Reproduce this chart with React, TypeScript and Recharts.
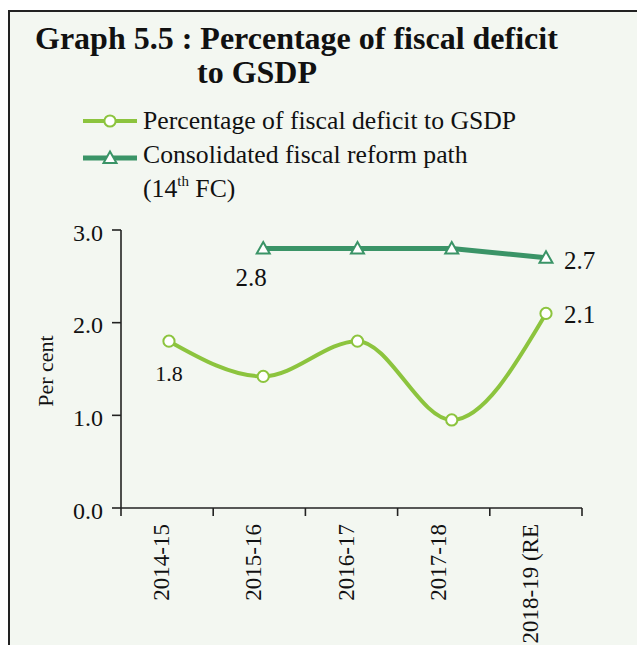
import React from 'react';
import { LineChart, Line, XAxis, YAxis, LabelList } from 'recharts';

// ---- data ----
const years = ['2014-15', '2015-16', '2016-17', '2017-18', '2018-19 (RE'];
const fiscalDeficitPct = [1.8, 1.42, 1.8, 0.95, 2.1];
const reformPath: (number | null)[] = [null, 2.8, 2.8, 2.8, 2.7];
const yTicks = [0, 1, 2, 3];
const seriesNames = ['Percentage of fiscal deficit to GSDP', 'Consolidated fiscal reform path'];
const titleLines = ['Graph 5.5 : Percentage of fiscal deficit', 'to GSDP'];
const yAxisTitle = 'Per cent';

const data = years.map((year, i) => ({
  year,
  idx: i,
  deficit: fiscalDeficitPct[i],
  path: reformPath[i],
}));
const edgeTicks = [...years.map((_, i) => i), years.length];

// ---- styles ----
const SERIF = "'Liberation Serif', 'Times New Roman', serif";
const LIGHT = '#8cc43e';
const DARK = '#3a9467';
const BG = '#f3f7f1';
const INK = '#111';
const AXIS = '#222';
const PT_D0 = -0.509;
const PT_D1 = 4.382;
const HALF_BAND = 46.1;

const circleDot = (p: any) =>
  p.cy == null || p.value == null ? (
    <g key={`c${p.index}`} />
  ) : (
    <circle key={`c${p.index}`} cx={p.cx} cy={p.cy} r={5.6} fill="#fff" stroke={LIGHT} strokeWidth={2} />
  );

const triDot = (p: any) =>
  p.cy == null || p.value == null ? (
    <g key={`t${p.index}`} />
  ) : (
    <path
      key={`t${p.index}`}
      d={`M${p.cx},${p.cy - 6.5} L${p.cx + 6.5},${p.cy + 5} L${p.cx - 6.5},${p.cy + 5} Z`}
      fill="#fff"
      stroke={DARK}
      strokeWidth={2}
    />
  );

type LabelCfg = { dx: number; dy: number; anchor: 'start' | 'middle' | 'end'; size: number };
const deficitLabels: Record<number, LabelCfg> = {
  0: { dx: 0, dy: 40, anchor: 'middle', size: 22 },
  4: { dx: 18, dy: 10, anchor: 'start', size: 25 },
};
const pathLabels: Record<number, LabelCfg> = {
  1: { dx: -12, dy: 37, anchor: 'middle', size: 25 },
  4: { dx: 18, dy: 11, anchor: 'start', size: 25 },
};

const makeLabel = (cfg: Record<number, LabelCfg>) => (props: any) => {
  const { index, value } = props;
  const c = cfg[index];
  if (!c || value == null) return <g />;
  const x = props.x ?? props.viewBox?.x;
  const y = props.y ?? props.viewBox?.y;
  return (
    <text x={x + c.dx} y={y + c.dy} textAnchor={c.anchor} fontSize={c.size} fontFamily={SERIF} fill={INK}>
      {Number(value).toFixed(1)}
    </text>
  );
};

const XTick = (p: any) => {
  const v = p.payload?.value;
  if (v == null || v >= years.length) return <g />;
  return (
    <g transform={`translate(${p.x + HALF_BAND - 6},${p.y + 8})`}>
      <text transform="rotate(-90)" textAnchor="end" dy="0.35em" fontSize={23} fontFamily={SERIF} fill={INK}>
        {years[v]}
      </text>
    </g>
  );
};

export default function App() {
  return (
    <div style={{ position: 'absolute', left: 0, top: 0, width: 637, height: 645, overflow: 'hidden', background: '#fff' }}>
      <div
        style={{
          position: 'absolute',
          left: 8,
          top: 10,
          width: 660,
          height: 660,
          background: BG,
          borderLeft: `2px solid ${AXIS}`,
          borderTop: `2px solid ${AXIS}`,
        }}
      />
      <svg width={637} height={645} style={{ position: 'absolute', left: 0, top: 0 }}>
        <text x={35} y={49} fontSize={32} fontWeight="bold" fontFamily={SERIF} fill={INK}>
          {titleLines[0]}
        </text>
        <text x={197} y={83} fontSize={32} fontWeight="bold" fontFamily={SERIF} fill={INK}>
          {titleLines[1]}
        </text>
        {/* legend */}
        <line x1={83} x2={137} y1={121} y2={121} stroke={LIGHT} strokeWidth={4} />
        <circle cx={110} cy={121} r={5.6} fill="#fff" stroke={LIGHT} strokeWidth={2} />
        <text x={143} y={129} fontSize={25.7} fontFamily={SERIF} fill={INK}>
          {seriesNames[0]}
        </text>
        <line x1={83} x2={137} y1={158} y2={158} stroke={DARK} strokeWidth={5} />
        <path d="M110,151.5 L116.5,163 L103.5,163 Z" fill="#fff" stroke={DARK} strokeWidth={2} />
        <text x={143} y={163} fontSize={25.7} fontFamily={SERIF} fill={INK}>
          {seriesNames[1]}
        </text>
        <text x={143} y={197} fontSize={25.7} fontFamily={SERIF} fill={INK}>
          (14<tspan fontSize={15} dy={-11}>th</tspan>
          <tspan dy={11}> FC)</tspan>
        </text>
        <text transform="translate(53,371) rotate(-90)" textAnchor="middle" fontSize={22} fontFamily={SERIF} fill={INK}>
          {yAxisTitle}
        </text>
      </svg>
      <div style={{ position: 'absolute', left: 0, top: 0 }}>
        <LineChart width={637} height={645} data={data} margin={{ top: 230, right: 55, bottom: 0, left: 21 }}>
          <XAxis
            xAxisId="cat"
            type="number"
            dataKey="idx"
            domain={[0, years.length]}
            ticks={edgeTicks}
            interval={0}
            height={137}
            tickSize={8}
            tickMargin={0}
            axisLine={{ stroke: AXIS, strokeWidth: 1.6 }}
            tickLine={{ stroke: AXIS, strokeWidth: 1.6 }}
            tick={<XTick />}
          />
          <XAxis xAxisId="pts" type="number" dataKey="idx" domain={[PT_D0, PT_D1]} allowDataOverflow hide />
          <YAxis
            type="number"
            domain={[0, 3]}
            ticks={yTicks}
            width={100}
            tickSize={9}
            tickMargin={9}
            tickFormatter={(v: number) => v.toFixed(1)}
            axisLine={{ stroke: AXIS, strokeWidth: 1.6 }}
            tickLine={{ stroke: AXIS, strokeWidth: 1.6 }}
            tick={{ fontSize: 24, fill: INK, fontFamily: SERIF, dy: 2 }}
          />
          <Line
            xAxisId="pts"
            type="linear"
            dataKey="path"
            name={seriesNames[1]}
            stroke={DARK}
            strokeWidth={5}
            dot={triDot}
            activeDot={false}
            isAnimationActive={false}
          >
            <LabelList dataKey="path" content={makeLabel(pathLabels)} />
          </Line>
          <Line
            xAxisId="pts"
            type="monotone"
            dataKey="deficit"
            name={seriesNames[0]}
            stroke={LIGHT}
            strokeWidth={4}
            dot={circleDot}
            activeDot={false}
            isAnimationActive={false}
          >
            <LabelList dataKey="deficit" content={makeLabel(deficitLabels)} />
          </Line>
        </LineChart>
      </div>
    </div>
  );
}
